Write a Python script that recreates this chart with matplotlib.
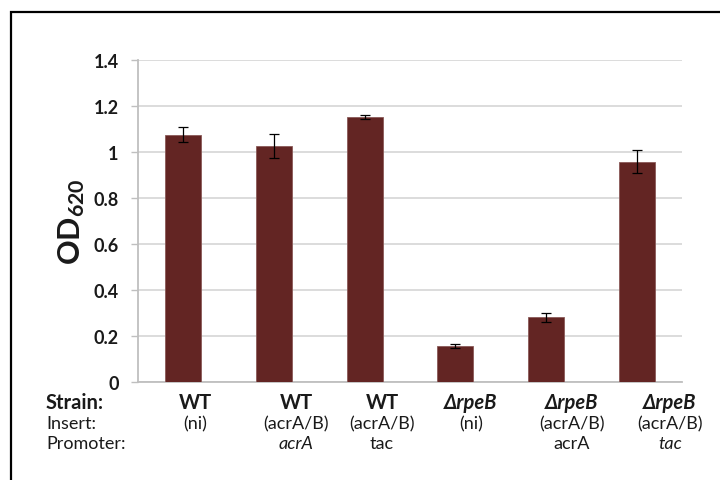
import matplotlib
matplotlib.use("Agg")
import matplotlib.pyplot as plt
import matplotlib.patches as mpatches
import numpy as np

plt.rcParams["font.family"] = ["Lato", "DejaVu Sans"]
plt.rcParams["mathtext.fontset"] = "custom"
plt.rcParams["mathtext.rm"] = "Lato:bold"
plt.rcParams["mathtext.it"] = "Lato:bold"
plt.rcParams["mathtext.bf"] = "Lato:bold"
plt.rcParams["mathtext.default"] = "bf"

BAR_COLOR = "#632523"
GRID_COLOR = "#d9d9d9"
AXIS_COLOR = "#bfbfbf"
TEXT_COLOR = "#1a1a1a"

# data
od620 = [1.075, 1.025, 1.152, 0.158, 0.281, 0.958]
od_err = [0.033, 0.052, 0.010, 0.009, 0.018, 0.050]
strains = ["WT", "WT", "WT", "ΔrpeB", "ΔrpeB", "ΔrpeB"]
inserts = ["(ni)", "(acrA/B)", "(acrA/B)", "(ni)", "(acrA/B)", "(acrA/B)"]
promoters = ["", "acrA", "tac", "", "acrA", "tac"]
promoter_italic = [False, True, False, False, False, True]
yticks = [0, 0.2, 0.4, 0.6, 0.8, 1.0, 1.2, 1.4]

W, H = 720, 481
fig = plt.figure(figsize=(7.2, 4.81), dpi=100)
ax = fig.add_axes([138 / W, 1 - 383 / H, 544 / W, 322 / H])

x = np.arange(len(od620))
ax.bar(x, od620, width=0.4, color=BAR_COLOR, edgecolor="#8a5a58", linewidth=0.6, zorder=3)
ax.errorbar(x, od620, yerr=od_err, fmt="none", ecolor="black", elinewidth=0.9,
            capsize=3.5, capthick=0.9, zorder=4)

ax.set_xlim(-0.5, len(od620) - 0.5)
ax.set_ylim(0, 1.4)
ax.set_yticks(yticks)
ax.set_yticklabels([f"{v:g}" for v in yticks], fontsize=13, fontweight="bold",
                   color=TEXT_COLOR)
ax.set_xticks([])
ax.yaxis.grid(True, color=GRID_COLOR, linewidth=1.3, zorder=0)
ax.set_axisbelow(True)
ax.tick_params(axis="y", length=5, width=1.0, color=AXIS_COLOR, pad=9)
for side in ["top", "right"]:
    ax.spines[side].set_visible(False)
for side in ["left", "bottom"]:
    ax.spines[side].set_color(AXIS_COLOR)
    ax.spines[side].set_linewidth(1.3)

fig.text(72 / W, 1 - 222 / H, r"$OD_{620}$", rotation=90,
         ha="center", va="center", fontsize=22, color=TEXT_COLOR)

# table-like labels under the axis
col_x = [195, 296, 382, 471, 572, 670]
row_y = [403, 424, 444]
fig.text(46 / W, 1 - row_y[0] / H, "Strain:", ha="left", va="center",
         fontsize=14.5, fontweight="bold", color=TEXT_COLOR)
fig.text(46 / W, 1 - row_y[1] / H, "Insert:", ha="left", va="center", fontsize=13,
         color=TEXT_COLOR)
fig.text(46 / W, 1 - row_y[2] / H, "Promoter:", ha="left", va="center", fontsize=13,
         color=TEXT_COLOR)
for cx, s, ins, pr, it in zip(col_x, strains, inserts, promoters, promoter_italic):
    fig.text(cx / W, 1 - row_y[0] / H, s, ha="center", va="center", fontsize=14.5,
             fontweight="bold", fontstyle="italic" if s != "WT" else "normal",
             color=TEXT_COLOR)
    fig.text(cx / W, 1 - row_y[1] / H, ins, ha="center", va="center", fontsize=13,
             color=TEXT_COLOR)
    if pr:
        fig.text(cx / W, 1 - row_y[2] / H, pr, ha="center", va="center", fontsize=13,
                 fontstyle="italic" if it else "normal", color=TEXT_COLOR)

# frame around the chart (partially cropped)
fig.add_artist(mpatches.Rectangle((11 / W, -0.1), 1.2, (1 - 13 / H) + 0.1,
                                  transform=fig.transFigure, fill=False,
                                  edgecolor="black", linewidth=1.6))

fig.savefig("out.png", dpi=100)
